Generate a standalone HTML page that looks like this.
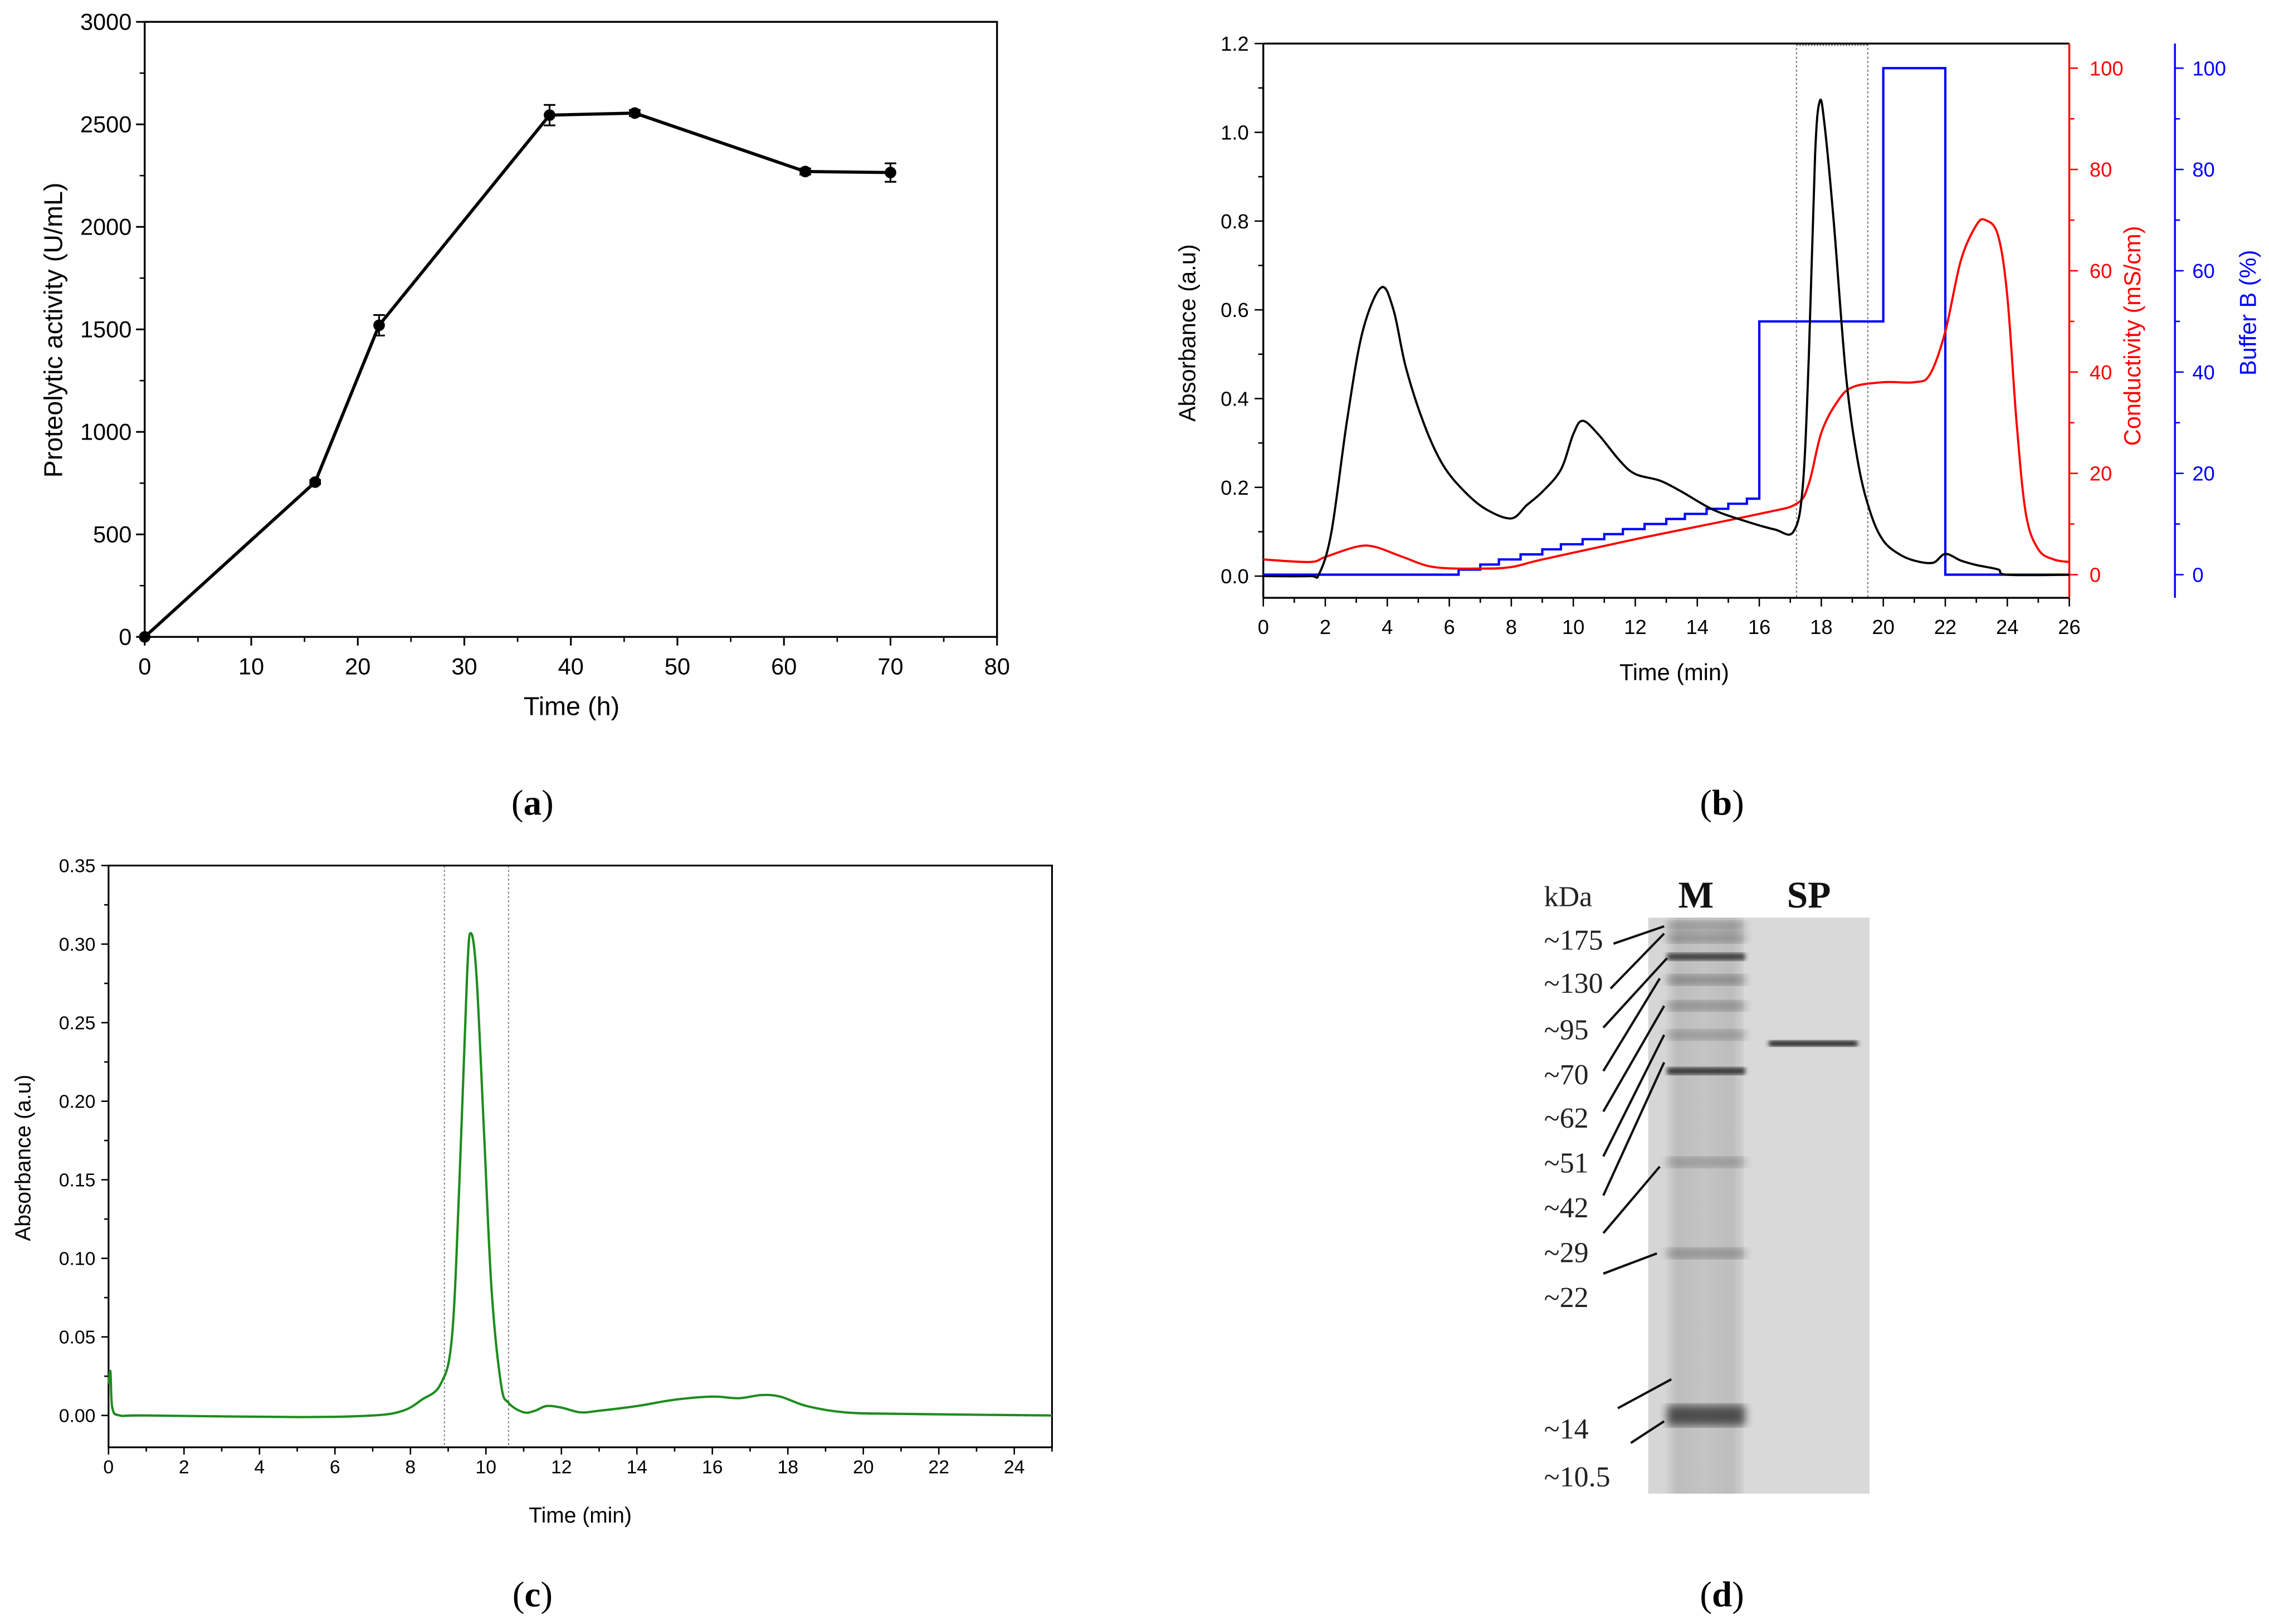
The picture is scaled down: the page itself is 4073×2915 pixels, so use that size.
<!DOCTYPE html>
<html><head><meta charset="utf-8">
<style>
html,body{margin:0;padding:0;background:#fff}
svg{display:block}
text{font-family:"Liberation Sans",sans-serif}
.serif{font-family:"Liberation Serif",serif}
</style></head>
<body>
<svg id="fig" width="4073" height="2915" viewBox="0 0 1568 1122" xmlns="http://www.w3.org/2000/svg">
<defs>
<linearGradient id="laneM" x1="0" x2="1" y1="0" y2="0">
<stop offset="0" stop-color="#d4d4d4"/><stop offset="0.15" stop-color="#bdbdbd"/><stop offset="0.5" stop-color="#c4c4c4"/><stop offset="0.85" stop-color="#bdbdbd"/><stop offset="1" stop-color="#d0d0d0"/>
</linearGradient>
<filter id="blur1"><feGaussianBlur stdDeviation="1.5"/></filter>
<filter id="blur3"><feGaussianBlur stdDeviation="3"/></filter>
</defs>
<g id="pa"></g>
<g id="pb"></g>
<g id="pc"></g>
<g id="pd">
  <text class="serif" x="1067" y="626" font-size="20" fill="#222">kDa</text>
  <text class="serif" x="1172" y="627" font-size="26" font-weight="bold" text-anchor="middle" fill="#111">M</text>
  <text class="serif" x="1250" y="627" font-size="26" font-weight="bold" text-anchor="middle" fill="#111">SP</text>
  <rect x="1139" y="634" width="153" height="398" fill="#d6d6d6"/>
  <rect x="1151" y="634" width="54" height="398" fill="url(#laneM)"/>
  <rect x="1205" y="634" width="87" height="398" fill="#d9d9d9"/>
</g>
<text class="serif" x="368" y="563" font-size="25" text-anchor="middle">(<tspan font-weight="bold">a</tspan>)</text>
<text class="serif" x="1190" y="563" font-size="25" text-anchor="middle">(<tspan font-weight="bold">b</tspan>)</text>
<text class="serif" x="368" y="1110" font-size="25" text-anchor="middle">(<tspan font-weight="bold">c</tspan>)</text>
<text class="serif" x="1190" y="1110" font-size="25" text-anchor="middle">(<tspan font-weight="bold">d</tspan>)</text>
</svg>
<script>
// ---- Panel a data ----
const aTime = [0, 16, 22, 38, 46, 62, 70];
const aActivity = [0, 755, 1520, 2545, 2555, 2270, 2265];
const aError = [0, 10, 50, 50, 15, 15, 45];
const aXTicks = [0, 10, 20, 30, 40, 50, 60, 70, 80];
const aYTicks = [0, 500, 1000, 1500, 2000, 2500, 3000];

// ---- Panel b data ----
const bTime = [0,1.5,1.8,2.2,2.7,3.2,3.8,4.2,4.6,5.2,5.8,6.5,7.2,8,8.5,9,9.6,10,10.3,10.8,11.5,12,12.8,13.5,14.5,15.5,16.5,17.1,17.4,17.6,17.8,17.95,18.1,18.4,18.8,19.2,19.6,20,20.5,21,21.6,22,22.5,23,23.7,24,26];
const bAbs = [0,0,0.005,0.1,0.35,0.55,0.65,0.6,0.47,0.34,0.25,0.19,0.15,0.13,0.16,0.19,0.24,0.32,0.35,0.32,0.26,0.23,0.215,0.19,0.15,0.125,0.105,0.1,0.2,0.5,0.95,1.07,1.02,0.8,0.45,0.25,0.14,0.08,0.05,0.035,0.03,0.05,0.035,0.025,0.015,0.003,0.003];
const bCondTime = [0,1.5,2,3,3.6,4.5,5.5,7,8,9,12,16,17.2,17.6,18,18.5,19,20,21,21.5,22,22.5,23,23.3,23.7,24,24.3,24.6,25,25.5,26];
const bCond = [3,2.5,3.5,5.5,5.5,3.5,1.5,1.2,1.5,3,7,12,14,18,28,34,37,38,38,39.5,48,62,69,70,67,55,30,12,5,3,2.5];
const bStepTime = [0,6.3,7,7.6,8.3,9,9.6,10.3,11,11.6,12.3,13,13.6,14.3,15,15.6,16,20,22];
const bStepLevel = [0,1,2,3,4,5,6,7,8,9,10,11,12,13,14,15,50,100,0];
const bXTicks = [0,2,4,6,8,10,12,14,16,18,20,22,24,26];
const bYTicks = [0,0.2,0.4,0.6,0.8,1.0,1.2];
const bRTicks = [0,20,40,60,80,100];
const bFractions = [17.2, 19.5];

// ---- Panel c data ----
const cTime = [0,0.05,0.1,0.3,1,5,7,7.8,8.3,8.8,9.1,9.3,9.5,9.6,9.75,9.95,10.15,10.4,10.6,11,11.3,11.6,12,12.5,13,14,15,16,16.7,17.3,17.8,18.5,19.5,21,25];
const cAbs = [0.02,0.028,0.005,0,0,-0.001,0,0.003,0.01,0.02,0.05,0.15,0.28,0.307,0.28,0.18,0.08,0.02,0.008,0.002,0.003,0.006,0.005,0.002,0.003,0.006,0.01,0.012,0.011,0.013,0.012,0.006,0.002,0.001,0];
const cXTicks = [0,2,4,6,8,10,12,14,16,18,20,22,24];
const cYTicks = [0,0.05,0.10,0.15,0.20,0.25,0.30,0.35];
const cFractions = [8.9, 10.6];

// ---- Panel d data ----
const dMarkers = ["~175","~130","~95","~70","~62","~51","~42","~29","~22","~14","~10.5"];
const dBands = [640,648,661,677,695,715,740,803,866,978];
const dBandStrength = [0.3,0.35,0.9,0.4,0.35,0.3,0.95,0.3,0.35,0.8];

const NS = "http://www.w3.org/2000/svg";
function mk(parent, tag, attrs, txt){
  const e = document.createElementNS(NS, tag);
  for (const k in attrs) e.setAttribute(k, attrs[k]);
  if (txt !== undefined) e.textContent = txt;
  parent.appendChild(e);
  return e;
}
function scale(d0,d1,r0,r1){ return v => r0 + (v-d0)/(d1-d0)*(r1-r0); }
function smoothPath(pts){
  let d = "M"+pts[0][0].toFixed(2)+","+pts[0][1].toFixed(2);
  for (let i=0;i<pts.length-1;i++){
    const p0=pts[Math.max(0,i-1)], p1=pts[i], p2=pts[i+1], p3=pts[Math.min(pts.length-1,i+2)];
    const c1x=p1[0]+(p2[0]-p0[0])/6, c1y=p1[1]+(p2[1]-p0[1])/6;
    const c2x=p2[0]-(p3[0]-p1[0])/6, c2y=p2[1]-(p3[1]-p1[1])/6;
    d += " C"+c1x.toFixed(2)+","+c1y.toFixed(2)+" "+c2x.toFixed(2)+","+c2y.toFixed(2)+" "+p2[0].toFixed(2)+","+p2[1].toFixed(2);
  }
  return d;
}

// ===== Panel a =====
(function(){
  const g = document.getElementById('pa');
  const X = scale(0,80,100,689), Y = scale(0,3000,440,15);
  let e = mk(g,'rect',{x:100,y:15,width:589,height:425,fill:'none',stroke:'#000','stroke-width':1.3});
   
  aXTicks.forEach(t=>{
    e = mk(g,'line',{x1:X(t),x2:X(t),y1:440,y2:446,stroke:'#000','stroke-width':1.2});
     
    if (t<80){ e = mk(g,'line',{x1:X(t+5),x2:X(t+5),y1:440,y2:443.5,stroke:'#000','stroke-width':1});
        }
    e = mk(g,'text',{x:X(t),y:466,'font-size':16,'text-anchor':'middle'},String(t));
     
  });
  aYTicks.forEach(t=>{
    e = mk(g,'line',{x1:94,x2:100,y1:Y(t),y2:Y(t),stroke:'#000','stroke-width':1.2});
     
    if (t<3000){ e = mk(g,'line',{x1:96.5,x2:100,y1:Y(t+250),y2:Y(t+250),stroke:'#000','stroke-width':1});
        }
    e = mk(g,'text',{x:91,y:Y(t)+5.5,'font-size':16,'text-anchor':'end'},String(t));
     
  });
  e = mk(g,'text',{x:395,y:494,'font-size':18,'text-anchor':'middle'},'Time (h)');
   
  e = mk(g,'text',{x:0,y:0,'font-size':18,'text-anchor':'middle',transform:'translate(43,228) rotate(-90)'},'Proteolytic activity (U/mL)');
   
  e = mk(g,'polyline',{points:aTime.map((t,i)=>X(t)+','+Y(aActivity[i])).join(' '),fill:'none',stroke:'#000','stroke-width':2.2});
   
  aTime.forEach((t,i)=>{
    if (aError[i]>0){
      const x=X(t), y1=Y(aActivity[i]+aError[i]), y2=Y(aActivity[i]-aError[i]);
      e = mk(g,'path',{d:`M${x},${y1}V${y2}M${x-4},${y1}H${x+4}M${x-4},${y2}H${x+4}`,stroke:'#000','stroke-width':1.2,fill:'none'});
       
    }
    e = mk(g,'circle',{cx:X(t),cy:Y(aActivity[i]),r:4,fill:'#000'});
     
  });
})();

// ===== Panel b =====
(function(){
  const g = document.getElementById('pb');
  const L=873,R=1430,T=30,B=413;
  const X = scale(0,26,L,R), Y = scale(0,1.2,398,T), YR = scale(0,100,397,47);
  let e;
  bFractions.forEach(f=>{
    e = mk(g,'line',{x1:X(f),x2:X(f),y1:T,y2:B,stroke:'#777','stroke-width':0.8,'stroke-dasharray':'1.5,1.5'});
     
  });
  e = mk(g,'line',{x1:X(bFractions[0]),x2:X(bFractions[1]),y1:T+1,y2:T+1,stroke:'#777','stroke-width':1.2,'stroke-dasharray':'1,1'});
   
  e = mk(g,'line',{x1:L,x2:R,y1:T,y2:T,stroke:'#000','stroke-width':1.3});
   
  e = mk(g,'line',{x1:L,x2:R,y1:B,y2:B,stroke:'#000','stroke-width':1.3});
   
  e = mk(g,'line',{x1:L,x2:L,y1:T,y2:B,stroke:'#000','stroke-width':1.3});
   
  e = mk(g,'line',{x1:R,x2:R,y1:T,y2:B,stroke:'#f00','stroke-width':1.3});
   
  e = mk(g,'line',{x1:1503,x2:1503,y1:T,y2:B,stroke:'#00f','stroke-width':1.3});
   
  bXTicks.forEach(t=>{
    e = mk(g,'line',{x1:X(t),x2:X(t),y1:B,y2:B+6,stroke:'#000','stroke-width':1});
     
    if(t<26){ e = mk(g,'line',{x1:X(t+1),x2:X(t+1),y1:B,y2:B+3.5,stroke:'#000','stroke-width':1});
        }
    e = mk(g,'text',{x:X(t),y:B+25,'font-size':14,'text-anchor':'middle'},String(t));
     
  });
  bYTicks.forEach(t=>{
    e = mk(g,'line',{x1:L-6,x2:L,y1:Y(t),y2:Y(t),stroke:'#000','stroke-width':1});
     
    if(t<1.2){ e = mk(g,'line',{x1:L-3.5,x2:L,y1:Y(t+0.1),y2:Y(t+0.1),stroke:'#000','stroke-width':1});
        }
    e = mk(g,'text',{x:L-10,y:Y(t)+5,'font-size':14,'text-anchor':'end'},t.toFixed(1));
     
  });
  bRTicks.forEach(t=>{
    e = mk(g,'line',{x1:R,x2:R+6,y1:YR(t),y2:YR(t),stroke:'#f00','stroke-width':1});
     
    if(t<100){ e = mk(g,'line',{x1:R,x2:R+3.5,y1:YR(t+10),y2:YR(t+10),stroke:'#f00','stroke-width':1});
        }
    e = mk(g,'text',{x:R+14,y:YR(t)+5,'font-size':14,fill:'#f00'},String(t));
     
    e = mk(g,'line',{x1:1503,x2:1509,y1:YR(t),y2:YR(t),stroke:'#00f','stroke-width':1});
     
    if(t<100){ e = mk(g,'line',{x1:1503,x2:1506.5,y1:YR(t+10),y2:YR(t+10),stroke:'#00f','stroke-width':1});
        }
    e = mk(g,'text',{x:1515,y:YR(t)+5,'font-size':14,fill:'#00f'},String(t));
     
  });
  e = mk(g,'text',{x:1157,y:470,'font-size':16,'text-anchor':'middle'},'Time (min)');
   
  e = mk(g,'text',{x:0,y:0,'font-size':16,'text-anchor':'middle',transform:'translate(826,230) rotate(-90)'},'Absorbance (a.u)');
   
  e = mk(g,'text',{x:0,y:0,'font-size':16,'text-anchor':'middle',fill:'#f00',transform:'translate(1479,232) rotate(-90)'},'Conductivity (mS/cm)');
   
  e = mk(g,'text',{x:0,y:0,'font-size':16,'text-anchor':'middle',fill:'#00f',transform:'translate(1559,216) rotate(-90)'},'Buffer B (%)');
   
  // blue step
  let d = "";
  bStepTime.forEach((t,i)=>{
    const x=X(t), y=YR(bStepLevel[i]);
    if(i===0) d+=`M${x},${y}`; else d+=`V${y}`;
    const nx = i<bStepTime.length-1 ? X(bStepTime[i+1]) : X(26);
    d+=`H${nx}`;
  });
  e = mk(g,'path',{d:d,fill:'none',stroke:'#00f','stroke-width':1.6});
   
  e = mk(g,'path',{d:smoothPath(bCondTime.map((t,i)=>[X(t),YR(bCond[i])])),fill:'none',stroke:'#f00','stroke-width':1.5});
   
  e = mk(g,'path',{d:smoothPath(bTime.map((t,i)=>[X(t),Y(bAbs[i])])),fill:'none',stroke:'#000','stroke-width':1.5});
   
})();

// ===== Panel c =====
(function(){
  const g = document.getElementById('pc');
  const L=75,R=727,T=598,B=1000;
  const X = scale(0,25,L,R), Y = scale(0,0.35,978,T);
  let e;
  cFractions.forEach(f=>{
    e = mk(g,'line',{x1:X(f),x2:X(f),y1:T,y2:B,stroke:'#888','stroke-width':0.8,'stroke-dasharray':'1.5,1.5'});
     
  });
  e = mk(g,'rect',{x:L,y:T,width:R-L,height:B-T,fill:'none',stroke:'#000','stroke-width':1.2});
   
  cXTicks.forEach(t=>{
    e = mk(g,'line',{x1:X(t),x2:X(t),y1:B,y2:B+5,stroke:'#000','stroke-width':1});
     
    e = mk(g,'line',{x1:X(t+1),x2:X(t+1),y1:B,y2:B+3,stroke:'#000','stroke-width':1});
     
    e = mk(g,'text',{x:X(t),y:B+18,'font-size':13,'text-anchor':'middle'},String(t));
     
  });
  cYTicks.forEach(t=>{
    e = mk(g,'line',{x1:L-5,x2:L,y1:Y(t),y2:Y(t),stroke:'#000','stroke-width':1});
     
    if(t<0.35){ e = mk(g,'line',{x1:L-3,x2:L,y1:Y(t+0.025),y2:Y(t+0.025),stroke:'#000','stroke-width':1});
        }
    e = mk(g,'text',{x:L-9,y:Y(t)+4.5,'font-size':13,'text-anchor':'end'},t.toFixed(2));
     
  });
  e = mk(g,'text',{x:401,y:1052,'font-size':15,'text-anchor':'middle'},'Time (min)');
   
  e = mk(g,'text',{x:0,y:0,'font-size':15,'text-anchor':'middle',transform:'translate(21,800) rotate(-90)'},'Absorbance (a.u)');
   
  e = mk(g,'path',{d:smoothPath(cTime.map((t,i)=>[X(t),Y(cAbs[i])])),fill:'none',stroke:'#1e8c1e','stroke-width':1.6});
   
})();

// ===== Panel d =====
(function(){
  const g = document.getElementById('pd');
  let e;
  dBands.forEach((y,i)=>{
    const s = dBandStrength[i];
    const h = i===9 ? 14 : (s>0.8 ? 5 : 7);
    e = mk(g,'rect',{x:1152,y:y-h/2,width:54,height:h,fill:'#000','fill-opacity':s*0.75,filter:s>0.8&&i!==9?'url(#blur1)':'url(#blur3)'});
     
  });
  e = mk(g,'rect',{x:1222,y:719,width:62,height:4,rx:2,fill:'#222',filter:'url(#blur1)'});
   
  const labelY = [656,686,718,749,779,810,841,872,903,994,1027];
  const lineStart = [[1115,652],[1113,683],[1108,710],[1108,740],[1108,768],[1108,799],[1108,826],[1108,852],[1108,880],[1118,973],[1127,997]];
  const lineEnd = [[1150,640],[1150,645],[1152,662],[1147,676],[1150,695],[1150,715],[1150,734],[1147,806],[1145,866],[1155,953],[1150,982]];
  dMarkers.forEach((m,i)=>{
    e = mk(g,'text',{x:1067,y:labelY[i],'font-size':20,fill:'#222','class':'serif'},m);
     
    e = mk(g,'line',{x1:lineStart[i][0],y1:lineStart[i][1],x2:lineEnd[i][0],y2:lineEnd[i][1],stroke:'#111','stroke-width':1.6});
     
  });
})();
</script>
</body></html>
